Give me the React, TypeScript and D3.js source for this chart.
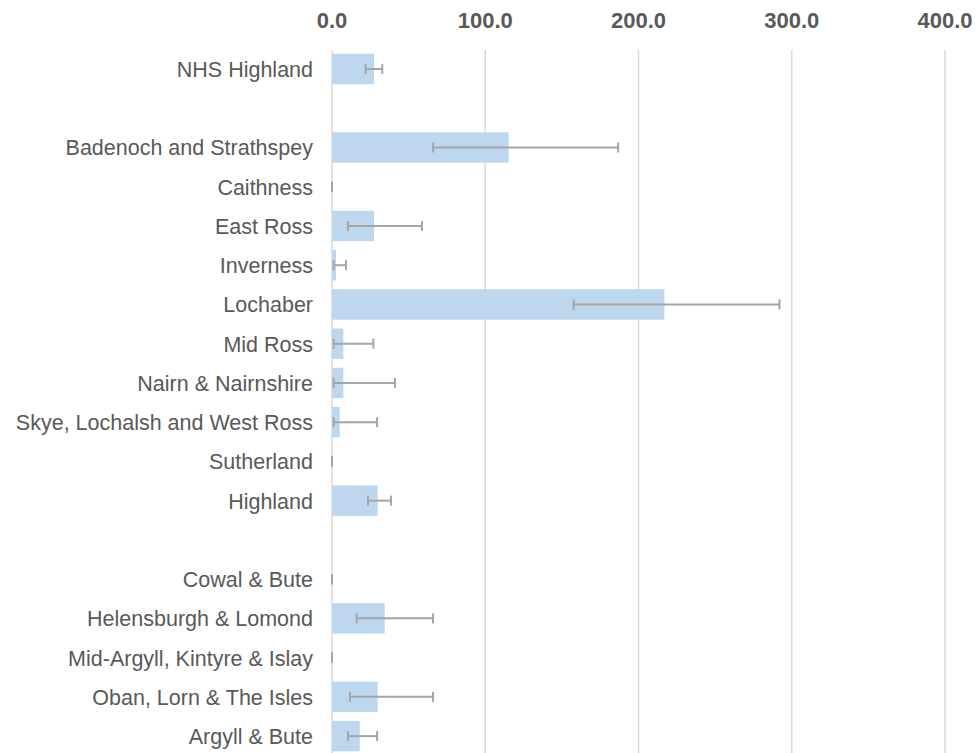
import React from "react";
import * as d3 from "d3";

const categories = [
  "NHS Highland",
  "",
  "Badenoch and Strathspey",
  "Caithness",
  "East Ross",
  "Inverness",
  "Lochaber",
  "Mid Ross",
  "Nairn & Nairnshire",
  "Skye, Lochalsh and West Ross",
  "Sutherland",
  "Highland",
  " ",
  "Cowal & Bute",
  "Helensburgh & Lomond",
  "Mid-Argyll, Kintyre & Islay",
  "Oban, Lorn & The Isles",
  "Argyll & Bute",
];
const values: (number | null)[] = [27.4, null, 115.3, 0, 27.4, 2.6, 216.9, 7.4, 7.4, 5.0, 0, 29.8, null, 0, 34.4, 0, 29.8, 18.1];
const lower: (number | null)[] = [21.9, null, 66, 0, 10.4, 1.1, 157.7, 1.1, 1.1, 1.1, 0, 23.5, null, 0, 16.1, 0, 11.7, 10.4];
const upper: (number | null)[] = [32.8, null, 186.7, 0, 58.7, 9.1, 292, 27, 41.1, 29.4, 0, 38.5, null, 0, 65.9, 0, 65.9, 29.4];
const ticks = [0, 100, 200, 300, 400];

const W = 977;
const H = 753;

export default function App() {
  const x = d3.scaleLinear().domain([0, 400]).range([332, 945]);
  const y = d3
    .scaleBand<string>()
    .domain(categories)
    .range([49.4, 755.7])
    .paddingInner(0.225)
    .paddingOuter(0.1125);
  const bw = y.bandwidth();
  const font = "'Liberation Sans', Arial, sans-serif";
  return (
    <svg
      width={W}
      height={H}
      style={{ position: "absolute", left: 0, top: 0, background: "#fff" }}
    >
      {ticks.map((t) => (
        <g key={t}>
          <line x1={x(t)} x2={x(t)} y1={50} y2={H} stroke="#D9D9D9" strokeWidth={1.5} />
          <text
            x={x(t)}
            y={28}
            textAnchor="middle"
            fontFamily={font}
            fontWeight="bold"
            fontSize={22}
            fill="#595959"
          >
            {d3.format(".1f")(t)}
          </text>
        </g>
      ))}
      {categories.map((c, i) => {
        const yc = (y(c) as number) + bw / 2;
        const v = values[i];
        const lo = lower[i];
        const hi = upper[i];
        return (
          <g key={i}>
            {c.trim() !== "" && (
              <text
                x={313}
                y={yc + 8}
                textAnchor="end"
                fontFamily={font}
                fontSize={21.5}
                fill="#595959"
              >
                {c}
              </text>
            )}
            {v !== null && v > 0 && (
              <rect x={x(0)} y={y(c)} width={x(v) - x(0)} height={bw} fill="#BDD7EE" />
            )}
            {lo !== null && hi !== null && (
              <g stroke="#A5A5A5" strokeWidth={2}>
                <line x1={x(lo)} x2={x(hi)} y1={yc} y2={yc} />
                <line x1={x(lo)} x2={x(lo)} y1={yc - 5} y2={yc + 5} />
                <line x1={x(hi)} x2={x(hi)} y1={yc - 5} y2={yc + 5} />
              </g>
            )}
          </g>
        );
      })}
    </svg>
  );
}
